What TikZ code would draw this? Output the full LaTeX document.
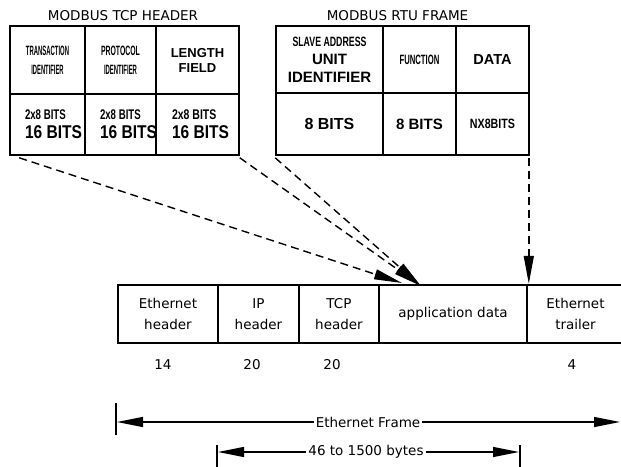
\documentclass[tikz,border=0pt]{standalone}
\usepackage{fontspec}
\usepackage{graphicx}
\setmainfont{Liberation Sans}
\newfontfamily\tahoma{DejaVu Sans}
\usetikzlibrary{arrows.meta}
\newcommand{\nar}[2]{\scalebox{#1}[1]{#2}}

\begin{document}
\begin{tikzpicture}[
    x=1pt, y=-1pt,
    cell/.style={draw, line width=1.6pt, inner sep=0pt, align=center},
    small/.style={font=\bfseries\fontsize{13.5}{19}\selectfont},
    big/.style={font=\bfseries\fontsize{16}{18}\selectfont},
    lbl/.style={align=left, font=\bfseries\fontsize{18.5}{19}\selectfont},
    title/.style={font=\tahoma\fontsize{13.5}{15}\selectfont},
    frm/.style={cell, minimum height=58, font=\tahoma\fontsize{13.5}{21}\selectfont},
    num/.style={font=\tahoma\fontsize{13.5}{15}\selectfont},
    ptr/.style={-{Triangle[length=28pt,width=10pt]}, line width=1.4pt, dash pattern=on 8pt off 5pt},
    dim/.style={-{Triangle[length=26pt,width=10pt]}, line width=1.2pt},
    tick/.style={line width=1.5pt},
]
    \useasboundingbox (0,0) rectangle (621,466);

    %%%
    % Modbus TCP header
    \node[title] (tcptitle) at (123,16) {MODBUS TCP HEADER};
    \node[cell, small, minimum width=75, minimum height=68] (trans) at (47.5,60)
        {\nar{0.44}{TRANSACTION}\\\nar{0.43}{IDENTIFIER}};
    \node[cell, small, minimum width=71, minimum height=68] (proto) at (120.5,60)
        {\nar{0.51}{PROTOCOL}\\\nar{0.44}{IDENTIFIER}};
    \node[cell, font=\bfseries\fontsize{13}{15}\selectfont, minimum width=83, minimum height=68] (len) at (197.5,60)
        {LENGTH\\FIELD};
    \node[cell, minimum width=75, minimum height=61,
        label={[lbl, xshift=6pt]center:{{\fontsize{14}{18}\selectfont\nar{0.69}{2x8 BITS}}\\\nar{0.84}{16 BITS}}}] (transb) at (47.5,124.5) {};
    \node[cell, minimum width=71, minimum height=61,
        label={[lbl, xshift=8pt]center:{{\fontsize{14}{18}\selectfont\nar{0.69}{2x8 BITS}}\\\nar{0.84}{16 BITS}}}] (protob) at (120.5,124.5) {};
    \node[cell, minimum width=83, minimum height=61,
        label={[lbl, xshift=3pt]center:{{\fontsize{14}{18}\selectfont\nar{0.75}{2x8 BITS}}\\\nar{0.84}{16 BITS}}}] (lenb) at (197.5,124.5) {};

    %%%
    % Modbus RTU frame
    \node[title] (rtutitle) at (397.5,16) {MODBUS RTU FRAME};
    \node[cell, font=\bfseries\fontsize{15}{18}\selectfont, minimum width=107, minimum height=67] (slave) at (329.5,59.5)
        {{\fontsize{13.5}{18}\selectfont\nar{0.65}{SLAVE ADDRESS}}\\UNIT\\IDENTIFIER};
    \node[cell, small, minimum width=73, minimum height=67] (func) at (419.5,59.5) {\nar{0.57}{FUNCTION}};
    \node[cell, font=\bfseries\fontsize{14.5}{17}\selectfont, minimum width=73, minimum height=67] (data) at (492.5,59.5) {DATA};
    \node[cell, big, minimum width=107, minimum height=62] (slaveb) at (329.5,124) {8 BITS};
    \node[cell, font=\bfseries\fontsize{15}{17}\selectfont, minimum width=73, minimum height=62] (funcb) at (419.5,124) {8 BITS};
    \node[cell, small, minimum width=73, minimum height=62] (datab) at (492.5,124) {\nar{0.79}{NX8BITS}};

    %%%
    % Ethernet frame
    \node[frm, minimum width=100] (eth) at (168,314) {Ethernet\\header};
    \node[frm, minimum width=81] (ip) at (258.5,314) {IP\\header};
    \node[frm, minimum width=80] (tcp) at (339,314) {TCP\\header};
    \node[frm, minimum width=148] (app) at (453,314) {application data};
    \node[frm, minimum width=97] (trail) at (575.5,314) {Ethernet\\trailer};

    \node[num] (n14) at (163,365) {14};
    \node[num] (n20a) at (252,365) {20};
    \node[num] (n20b) at (332,365) {20};
    \node[num] (n4) at (572,365) {4};

    % where the fields go
    \coordinate (tipA) at (402,283);
    \coordinate (tipB) at (421,286);
    \draw[ptr] ([xshift=10pt,yshift=-2pt]transb.south west) -- (tipA);
    \draw[ptr] ([yshift=-2pt]lenb.south east) -- (tipB);
    \draw[ptr] ([yshift=-2pt]slaveb.south west) -- (tipB);
    \draw[ptr] ([xshift=-1pt,yshift=-2pt]datab.south east) -- ++(0,126);

    %%%
    % sizes
    \draw[tick] (116,403) -- (116,435);
    \node[num, fill=white, inner xsep=2pt] (frame) at (368,422) {Ethernet Frame};
    \coordinate (fl) at (117,422);
    \coordinate (fr) at (620,422);
    \draw[dim] (frame.west) -- (fl);
    \draw[dim] (frame.east) -- (fr);

    \draw[tick] (217,445) -- (217,470);
    \draw[tick] (520,445) -- (520,470);
    \node[num, fill=white, inner xsep=2pt] (payload) at (366,452) {46 to 1500 bytes};
    \coordinate (pl) at (218,452);
    \coordinate (pr) at (519,452);
    \draw[dim] (payload.west) -- (pl);
    \draw[dim] (payload.east) -- (pr);

\end{tikzpicture}
\end{document}
